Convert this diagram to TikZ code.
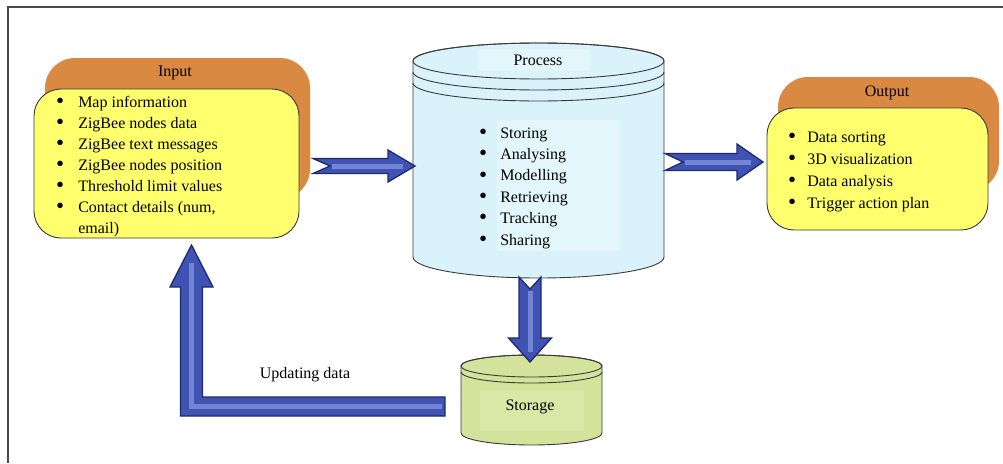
\documentclass[tikz,border=0pt]{standalone}
\usepackage{fontspec}
\setmainfont{Liberation Serif}
\usetikzlibrary{calc}
\definecolor{backorange}{HTML}{DA8943}
\definecolor{frontyellow}{HTML}{FFFF6E}
\definecolor{procfill}{HTML}{DAF2FA}
\definecolor{procinner}{HTML}{E3F6FB}
\definecolor{storfill}{HTML}{D4E29B}
\definecolor{storinner}{HTML}{DAE7A6}
\definecolor{arrowfill}{HTML}{4053B3}
\definecolor{arrowline}{HTML}{1C2A73}
\definecolor{arrowlight}{HTML}{8396E2}
\definecolor{outline}{HTML}{3A3A3A}
\definecolor{framecol}{HTML}{4A4A4A}
\newcommand\bigbul{\raisebox{-1.3pt}{\fontsize{23}{21}\selectfont\textbullet}}
\tikzset{
  backbox/.style={rectangle, rounded corners=30pt, fill=backorange, draw=none, inner sep=0pt},
  frontbox/.style={rectangle, rounded corners=27pt, fill=frontyellow, draw=outline, line width=0.9pt, inner sep=0pt},
  label16/.style={font=\fontsize{16}{21}\selectfont, inner sep=0pt},
  listnode/.style={anchor=base west, inner sep=0pt},
  blockarrow/.style={fill=arrowfill, draw=arrowline, line width=1.3pt, line join=miter},
  glint/.style={draw=arrowlight, line width=5pt, opacity=0.75, line cap=butt},
  cyl/.style={draw=outline, line width=0.9pt},
}
\begin{document}
\begin{tikzpicture}[x=1pt,y=-1pt]
\useasboundingbox (0,0) rectangle (1003,463);
\fill[white] (0,0) rectangle (1003,463);
% frame
\draw[framecol, line width=1.3pt] (8,463) -- (8,7) -- (1003,7);

% ---------- Input ----------
\node[backbox, minimum width=265pt, minimum height=141pt] (inback) at (177.5,128.5) {};
\node[label16] (intitle) at (175,73) {Input};
\node[frontbox, minimum width=265pt, minimum height=149pt] (input) at (166.5,163.5) {};
\node[listnode] (inlist) at (56,107) {\fontsize{16}{21}\selectfont
  \begin{tabular}[t]{@{}l@{\hspace{14pt}}l@{}}
  \bigbul & Map information\\
  \bigbul & ZigBee nodes data\\
  \bigbul & ZigBee text messages\\
  \bigbul & ZigBee nodes position\\
  \bigbul & Threshold limit values\\
  \bigbul & Contact details (num,\\
              & email)
  \end{tabular}};

% ---------- Output ----------
\node[backbox, minimum width=221pt, minimum height=114pt] (outback) at (888.5,134) {};
\node[label16] (outtitle) at (887,93) {Output};
\node[frontbox, minimum width=221pt, minimum height=122pt] (output) at (877.5,169) {};
\node[listnode] (outlist) at (788,142) {\fontsize{16}{22}\selectfont
  \begin{tabular}[t]{@{}l@{\hspace{11pt}}l@{}}
  \bigbul & Data sorting\\
  \bigbul & 3D visualization\\
  \bigbul & Data analysis\\
  \bigbul & Trigger action plan
  \end{tabular}};

% ---------- Process cylinder ----------
\filldraw[cyl, fill=procfill] (413,61) -- (413,257)
  arc[start angle=180, end angle=360, x radius=125.5pt, y radius=21pt]
  -- (664,61)
  arc[start angle=0, end angle=180, x radius=125.5pt, y radius=18pt] -- cycle;
\fill[procinner] (497,120) rectangle (620,251);
\fill[procinner] (478,49) rectangle (590,71);
\draw[cyl] (538.5,61) ellipse[x radius=125.5pt, y radius=18pt];
\draw[cyl] (413,72) arc[start angle=180, end angle=360, x radius=125.5pt, y radius=18pt];
\draw[cyl] (413,83) arc[start angle=180, end angle=360, x radius=125.5pt, y radius=18pt];
\node[label16] (proctitle) at (538,60) {Process};
\node[listnode] (process) at (479,138) {\fontsize{16}{21.4}\selectfont
  \begin{tabular}[t]{@{}l@{\hspace{13pt}}l@{}}
  \bigbul & Storing\\
  \bigbul & Analysing\\
  \bigbul & Modelling\\
  \bigbul & Retrieving\\
  \bigbul & Tracking\\
  \bigbul & Sharing
  \end{tabular}};

% ---------- Storage cylinder ----------
\filldraw[cyl, fill=storfill] (461,366) -- (461,433)
  arc[start angle=180, end angle=360, x radius=70.5pt, y radius=12pt]
  -- (602,366)
  arc[start angle=0, end angle=180, x radius=70.5pt, y radius=11pt] -- cycle;
\fill[storinner] (480,390) rectangle (584,431);
\draw[cyl] (531.5,366) ellipse[x radius=70.5pt, y radius=11pt];
\draw[cyl] (461,372) arc[start angle=180, end angle=360, x radius=70.5pt, y radius=11pt];
\node[label16] (storage) at (530,407) {Storage};

% ---------- Arrow 1: input -> process ----------
\coordinate (a1s) at (313,166);
\coordinate (a1e) at (415,166);
\filldraw[blockarrow] ($(a1s)+(0,-7.5)$) -- ($(a1e)+(-27,-7.5)$) -- ($(a1e)+(-27,-16)$)
  -- (a1e) -- ($(a1e)+(-27,16)$) -- ($(a1e)+(-27,7.5)$) -- ($(a1s)+(0,7.5)$)
  -- ($(a1s)+(17,0)$) -- cycle;
\draw[glint] ($(a1s)+(19,0)$) -- ($(a1e)+(-12,0)$);

% ---------- Arrow 2: process -> output ----------
\coordinate (a2s) at (665,162);
\coordinate (a2e) at (763,162);
\filldraw[blockarrow] ($(a2s)+(0,-8.5)$) -- ($(a2e)+(-26,-8.5)$) -- ($(a2e)+(-26,-18)$)
  -- (a2e) -- ($(a2e)+(-26,18)$) -- ($(a2e)+(-26,8.5)$) -- ($(a2s)+(0,8.5)$)
  -- ($(a2s)+(18,0)$) -- cycle;
\draw[glint] ($(a2s)+(20,0)$) -- ($(a2e)+(-12,0)$);

% ---------- Arrow 3: process -> storage ----------
\coordinate (a3s) at (530,277);
\coordinate (a3e) at (530,362);
\filldraw[blockarrow] ($(a3s)+(-11,0)$) -- ($(a3e)+(-11,-24)$) -- ($(a3e)+(-21.5,-24)$)
  -- (a3e) -- ($(a3e)+(21.5,-24)$) -- ($(a3e)+(11,-24)$) -- ($(a3s)+(11,0)$)
  -- ($(a3s)+(0,12)$) -- cycle;
\draw[glint] ($(a3s)+(0,14)$) -- ($(a3e)+(0,-10)$);

% ---------- Arrow 4: storage -> input (Updating data) ----------
\coordinate (a4s) at (445,406.5);
\coordinate (a4c) at (191.5,406.5);
\coordinate (a4e) at (191.5,245);
\filldraw[blockarrow] ($(a4s)+(0,-9.5)$) -- ($(a4c)+(11,-9.5)$) -- ($(a4e)+(11,42)$)
  -- ($(a4e)+(21.5,42)$) -- (a4e) -- ($(a4e)+(-21.5,42)$) -- ($(a4e)+(-11,42)$)
  -- ($(a4c)+(-11,9.5)$) -- ($(a4s)+(0,9.5)$) -- cycle;
\draw[glint, line join=miter] ($(a4s)+(-3,0)$) -- (a4c) -- ($(a4e)+(0,18)$);
\node[label16] (updlabel) at (305,375) {Updating data};
\end{tikzpicture}
\end{document}
